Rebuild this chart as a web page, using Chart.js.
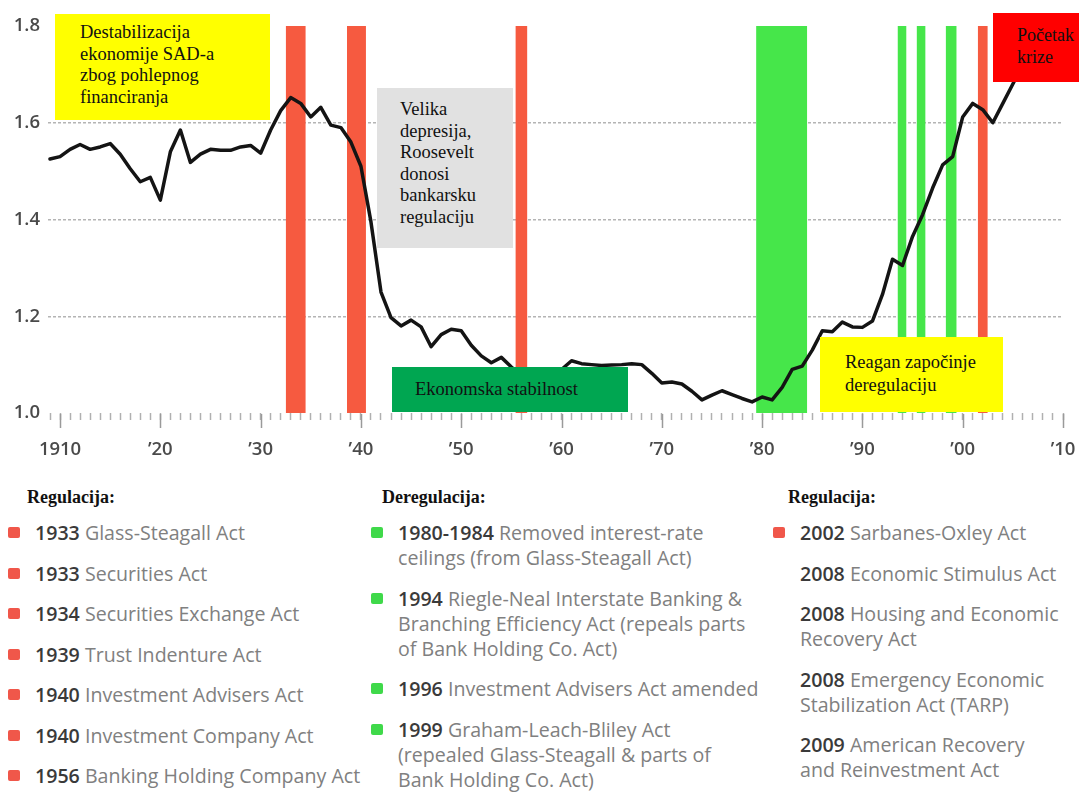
<!DOCTYPE html>
<html><head><meta charset="utf-8">
<script src="https://cdn.jsdelivr.net/npm/chart.js@4.4.1/dist/chart.umd.min.js"></script>
<style>
html,body{margin:0;padding:0;background:#fff;}
body{width:1079px;height:799px;overflow:hidden;position:relative;font-family:'Open Sans',sans-serif;}
#c{position:absolute;left:0;top:0;}
.box{position:absolute;font-family:'Liberation Serif',serif;font-size:18.5px;color:#111;box-sizing:border-box;white-space:nowrap;}
.head{position:absolute;font-family:'Liberation Serif',serif;font-weight:bold;font-size:18px;line-height:22px;color:#111;}
.col{position:absolute;font-size:19.6px;line-height:25px;color:#808080;white-space:nowrap;}
.item{position:relative;margin-bottom:15.5px;}
.item b{color:#3a3a3a;font-weight:600;}
.mk{position:absolute;width:12px;height:11px;border-radius:2px;top:7px;}
</style></head>
<body>
<canvas id="c" width="1079" height="470"></canvas>

<div class="box" style="left:55px;top:14px;width:215px;height:106px;background:#ffff00;padding:8px 0 0 25px;line-height:21.7px;">Destabilizacija<br>ekonomije SAD-a<br>zbog pohlepnog<br>financiranja</div>
<div class="box" style="left:377px;top:88px;width:136px;height:160px;background:#e1e1e1;padding:11px 0 0 23px;line-height:21.6px;">Velika<br>depresija,<br>Roosevelt<br>donosi<br>bankarsku<br>regulaciju</div>
<div class="box" style="left:392px;top:367px;width:236px;height:45px;background:#00a651;padding:12px 0 0 23px;line-height:21.6px;">Ekonomska stabilnost</div>
<div class="box" style="left:820px;top:337px;width:183px;height:75px;background:#ffff00;padding:14px 0 0 25px;line-height:23px;">Reagan započinje<br>deregulaciju</div>
<div class="box" style="left:993px;top:13px;width:86px;height:69px;background:#ff0000;padding:11px 0 0 24px;line-height:22px;font-size:18px;">Početak<br>krize</div>

<div class="head" style="left:27px;top:486px;">Regulacija:</div>
<div class="head" style="left:382px;top:486px;">Deregulacija:</div>
<div class="head" style="left:788px;top:486px;">Regulacija:</div>
<div class="col" id="col1" style="left:35px;top:520px;"></div>
<div class="col" id="col2" style="left:398px;top:520px;"></div>
<div class="col" id="col3" style="left:800px;top:520px;"></div>

<script>
// ---- data ----
const years = [1909,1910,1911,1912,1913,1914,1915,1916,1917,1918,1919,1920,1921,1922,1923,1924,1925,1926,1927,1928,1929,
  1930,1931,1932,1933,1934,1935,1936,1937,1938,1939,1940,1941,1942,1943,1944,1945,1946,1947,1948,1949,
  1950,1951,1952,1953,1954,1955,1956,1957,1958,1959,1960,1961,1962,1963,1964,1965,1966,1967,1968,1969,
  1970,1971,1972,1973,1974,1975,1976,1977,1978,1979,1980,1981,1982,1983,1984,1985,1986,1987,1988,1989,
  1990,1991,1992,1993,1994,1995,1996,1997,1998,1999,2000,2001,2002,2003,2004,2005,2006];
const leverage = [1.525,1.53,1.545,1.555,1.545,1.55,1.557,1.535,1.505,1.478,1.487,1.44,1.54,1.585,1.518,1.535,1.545,1.543,1.543,1.55,1.553,
  1.537,1.585,1.625,1.652,1.64,1.612,1.632,1.595,1.59,1.56,1.51,1.395,1.25,1.197,1.18,1.192,1.178,1.137,1.162,1.173,
  1.17,1.14,1.118,1.104,1.115,1.095,1.078,1.072,1.074,1.08,1.09,1.108,1.102,1.1,1.098,1.099,1.1,1.102,1.1,1.082,
  1.062,1.064,1.06,1.045,1.027,1.037,1.046,1.038,1.03,1.023,1.033,1.027,1.053,1.09,1.097,1.13,1.17,1.168,1.188,1.178,
  1.177,1.19,1.245,1.318,1.305,1.365,1.41,1.465,1.513,1.53,1.612,1.64,1.627,1.6,1.64,1.68,1.72];
const regulationBands = [[1932.5,1934.5],[1938.6,1940.5],[1955.4,1956.6],[2001.5,2002.5]];
const deregulationBands = [[1979.4,1984.5],[1993.5,1994.4],[1995.4,1996.3],[1998.3,1999.4]];
const xTickYears = [1910,1920,1930,1940,1950,1960,1970,1980,1990,2000,2010];
const xTickLabels = ['1910','’20','’30','’40','’50','’60','’70','’80','’90','’00','’10'];
const yTickValues = [1.0,1.2,1.4,1.6,1.8];

const regulationActs1 = [['1933','Glass-Steagall Act'],['1933','Securities Act'],['1934','Securities Exchange Act'],
  ['1939','Trust Indenture Act'],['1940','Investment Advisers Act'],['1940','Investment Company Act'],['1956','Banking Holding Company Act']];
const deregulationActs = [['1980-1984','Removed interest-rate|ceilings (from Glass-Steagall Act)'],
  ['1994','Riegle-Neal Interstate Banking &|Branching Efficiency Act (repeals parts|of Bank Holding Co. Act)'],
  ['1996','Investment Advisers Act amended'],
  ['1999','Graham-Leach-Bliley Act|(repealed Glass-Steagall & parts of|Bank Holding Co. Act)']];
const regulationActs2 = [['2002','Sarbanes-Oxley Act',true],['2008','Economic Stimulus Act'],['2008','Housing and Economic|Recovery Act'],
  ['2008','Emergency Economic|Stabilization Act (TARP)'],['2009','American Recovery|and Reinvestment Act']];

const RED = '#f65a40', GREEN = '#46e64a';
const RED_MK = '#f0574a', GREEN_MK = '#3fd94a';

// ---- legend text ----
function esc(s){return s.replace(/&/g,'&amp;');}
function fill(id, items, color, markAll){
  const el = document.getElementById(id);
  items.forEach(it=>{
    const d = document.createElement('div'); d.className='item';
    const lines = it[1].split('|').map(esc);
    d.innerHTML = '<b>'+it[0]+'</b> '+lines.join('<br>');
    if (markAll || it[2]) {
      const m = document.createElement('div'); m.className='mk'; m.style.background=color; m.style.left='-27px';
      d.appendChild(m);
    }
    el.appendChild(d);
  });
}
fill('col1', regulationActs1, RED_MK, true);
fill('col2', deregulationActs, GREEN_MK, true);
fill('col3', regulationActs2, RED_MK, false);

// ---- chart ----
const bandDs = (b,color)=>({data:[{x:b[0],y:1.8},{x:b[1],y:1.8}],fill:'start',backgroundColor:color,
  borderWidth:0,borderColor:'rgba(0,0,0,0)',pointRadius:0,order:2});

const majorTicks = {
  id:'majorTicks',
  afterDraw(chart){
    const xs = chart.scales.x, ctx = chart.ctx, b = chart.chartArea.bottom;
    ctx.save(); ctx.strokeStyle='#9a9a9a'; ctx.lineWidth=1.5;
    xTickYears.forEach(v=>{const p=Math.round(xs.getPixelForValue(v))+0.5; ctx.beginPath(); ctx.moveTo(p,b+1); ctx.lineTo(p,b+15); ctx.stroke();});
    ctx.restore();
  }
};

new Chart(document.getElementById('c'), {
  type:'line',
  data:{datasets:[
    {data:years.map((y,i)=>({x:y,y:leverage[i]})),borderColor:'#141414',borderWidth:3.5,pointRadius:0,fill:false,
     tension:0,borderJoinStyle:'round',borderCapStyle:'round',order:0},
    ...regulationBands.map(b=>bandDs(b,RED)),
    ...deregulationBands.map(b=>bandDs(b,GREEN))
  ]},
  options:{
    responsive:false, animation:false, devicePixelRatio:1,
    layout:{padding:{left:0,top:26,right:16,bottom:0}},
    plugins:{legend:{display:false},tooltip:{enabled:false}},
    scales:{
      x:{type:'linear',min:1908.8,max:2010,
        afterBuildTicks(s){const t=[];for(let v=1909;v<=2010;v++)t.push({value:v});s.ticks=t;},
        afterFit(s){s.height=57;s.paddingLeft=0;s.paddingRight=0;},
        grid:{drawOnChartArea:false,drawTicks:true,tickLength:7,tickColor:'#b0b0b0',tickWidth:1.5},
        border:{display:false},
        ticks:{autoSkip:false,maxRotation:0,padding:19,color:'#4a4a4a',font:{family:'Open Sans',size:18.5,weight:'600'},
          callback:(v)=>{const i=xTickYears.indexOf(v);return i>=0?xTickLabels[i]:'';}}
      },
      y:{min:1.0,max:1.8,
        afterBuildTicks(s){s.ticks=yTickValues.map(v=>({value:v}));},
        afterFit(s){s.width=48;s.paddingTop=0;s.paddingBottom=0;},
        grid:{drawTicks:false,lineWidth:1.5,color:(c)=>{const v=c.tick&&c.tick.value;return (v>1.01&&v<1.79)?'#b4b4b4':'rgba(0,0,0,0)';}},
        border:{display:false,dash:[3,2]},
        ticks:{padding:8,color:'#4a4a4a',font:{family:'Open Sans',size:18.5,weight:'600'},callback:(v)=>Number(v).toFixed(1)}
      }
    }
  },
  plugins:[majorTicks]
});
</script>
</body></html>
